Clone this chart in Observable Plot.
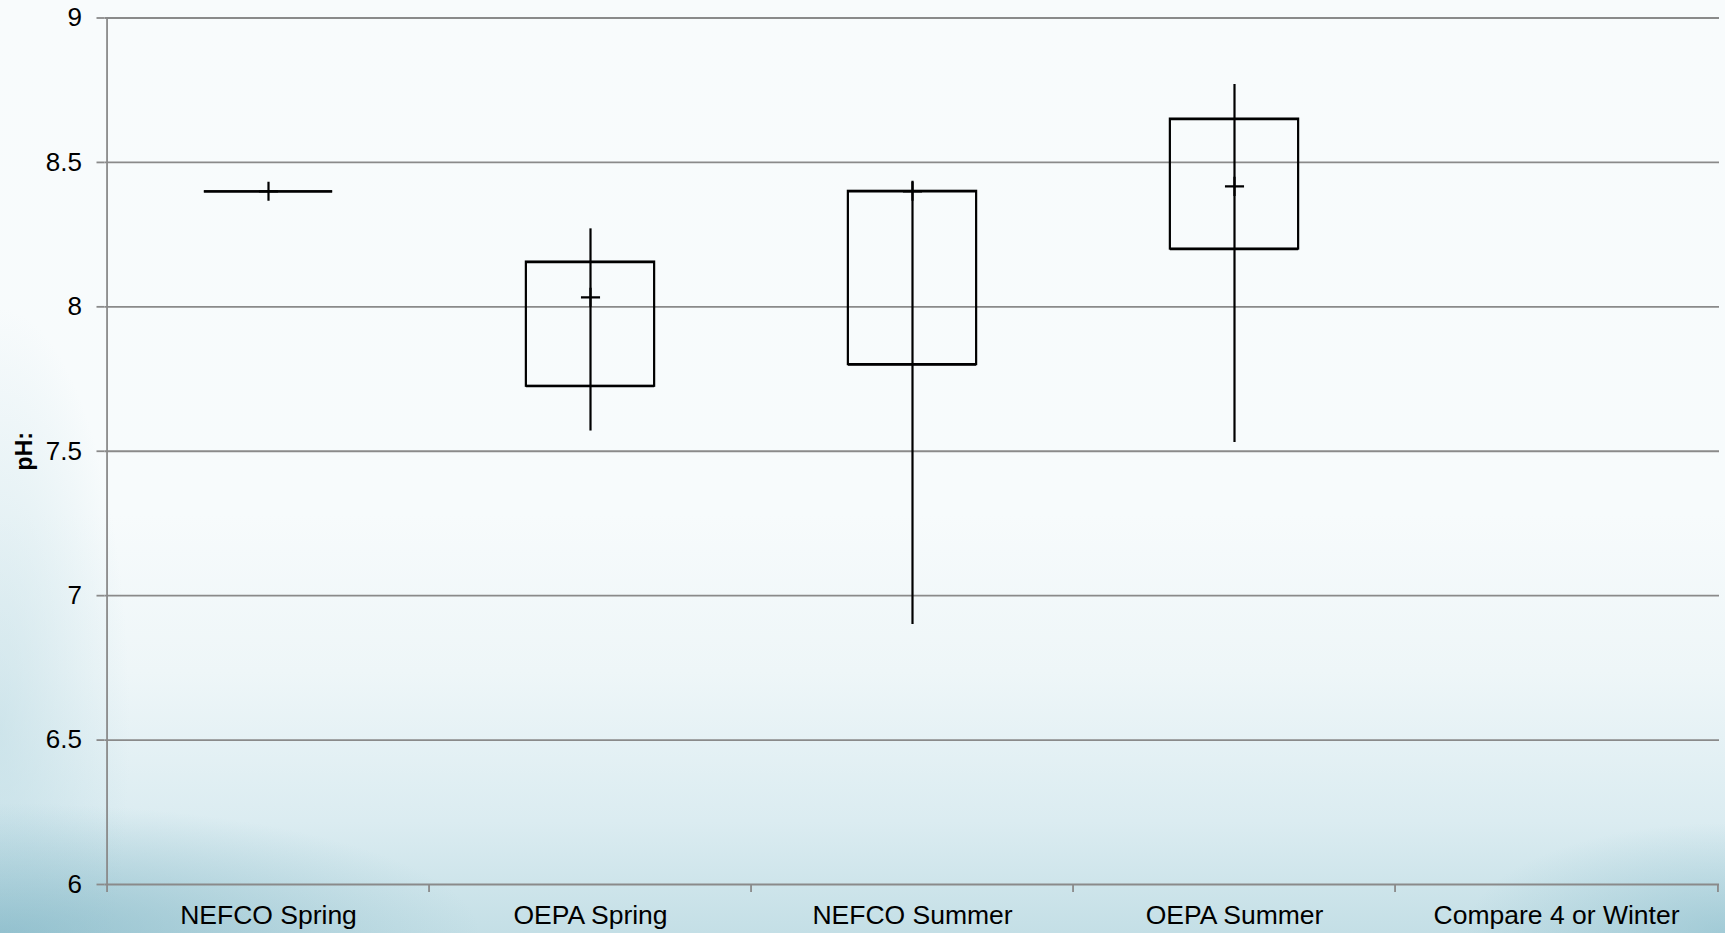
<!DOCTYPE html>
<html>
<head>
<meta charset="utf-8">
<script src="https://cdn.jsdelivr.net/npm/d3@7"></script>
<script src="https://cdn.jsdelivr.net/npm/@observablehq/plot@0.6"></script>
<style>
  html, body { margin: 0; padding: 0; }
  body {
    width: 1725px;
    height: 933px;
    overflow: hidden;
    background:
      radial-gradient(ellipse 480px 130px at 0% 100%, rgba(110, 170, 188, 0.55), rgba(110, 170, 188, 0) 100%),
      radial-gradient(ellipse 260px 110px at 100% 100%, rgba(120, 178, 195, 0.45), rgba(120, 178, 195, 0) 100%),
      radial-gradient(ellipse 130px 420px at 0% 78%, rgba(185, 217, 226, 0.55), rgba(185, 217, 226, 0) 100%),
      linear-gradient(to bottom, #f8fbfc 0%, #f7fbfc 55%, #eef6f8 72%, #dbecf1 88%, #c4dfe6 100%);
  }
  #chart svg { display: block; }
</style>
</head>
<body>
<div id="chart"></div>
<script>
// pH summary by sampling group: whiskers (min–max), box (Q1–Q3), mean marker.
const categories = ["NEFCO Spring", "OEPA Spring", "NEFCO Summer", "OEPA Summer", "Compare 4 or Winter"];
const minValues  = [8.40, 7.57, 6.90, 7.53, null];
const q1Values   = [8.40, 7.725, 7.80, 8.20, null];
const q3Values   = [8.40, 8.155, 8.40, 8.65, null];
const maxValues  = [8.40, 8.27, 8.435, 8.77, null];
const meanValues = [8.40, 8.033, 8.40, 8.417, null];
const yTicks = [6, 6.5, 7, 7.5, 8, 8.5, 9];
const yLabel = "pH:";

const rows = categories
  .map((category, i) => ({
    category,
    min: minValues[i],
    q1: q1Values[i],
    q3: q3Values[i],
    max: maxValues[i],
    mean: meanValues[i]
  }))
  .filter((d) => d.q1 != null);

const width = 1725;
const height = 933;
const marginLeft = 104.5;
const marginRight = 6;
const marginTop = 17.5;
const marginBottom = 49;
const band = (width - marginLeft - marginRight) / categories.length;
const boxInset = band * 0.3;

const gridColor = "#8a8a8a";
const ink = "#000";
const lw = 2.2;

const chart = Plot.plot({
  width,
  height,
  marginLeft,
  marginRight,
  marginTop,
  marginBottom,
  style: {
    background: "transparent",
    fontFamily: "'Liberation Sans', Arial, Helvetica, sans-serif",
    fontSize: "26px",
    color: "#000"
  },
  x: { type: "band", domain: categories, padding: 0 },
  y: { domain: [6, 9] },
  marks: [
    // horizontal gridlines (the 6 line doubles as the category axis)
    Plot.ruleY(yTicks, { stroke: gridColor, strokeWidth: 1.8 }),
    // value axis line, running slightly below the baseline
    Plot.ruleX([categories[0]], { x: (d) => d, dx: -band / 2, y1: 9, y2: 6, insetBottom: -8, stroke: gridColor, strokeWidth: 1.8 }),
    // category boundary ticks
    Plot.ruleX(categories.slice(1), { x: (d) => d, dx: -band / 2, y1: 6, y2: 6, insetBottom: -8, stroke: gridColor, strokeWidth: 1.8 }),
    Plot.ruleX(categories.slice(-1), { x: (d) => d, dx: band / 2, y1: 6, y2: 6, insetBottom: -8, stroke: gridColor, strokeWidth: 1.8 }),
    Plot.axisY({
      ticks: yTicks,
      tickSize: 8,
      tickPadding: 15,
      tickFormat: (d) => String(d),
      stroke: gridColor,
      strokeWidth: 1.8,
      fill: "#000",
      fontSize: 26,
      label: null
    }),
    Plot.axisX({
      tickSize: 0,
      tickPadding: 21,
      fill: "#000",
      fontSize: 26.5,
      label: null
    }),
    Plot.text([yLabel], {
      frameAnchor: "left",
      dx: -80,
      rotate: -90,
      text: (d) => d,
      textAnchor: "middle",
      lineAnchor: "middle",
      fontWeight: "bold",
      fontSize: 23,
      fill: "#000"
    }),
    // whiskers
    Plot.ruleX(rows, { x: "category", y1: "min", y2: "max", stroke: ink, strokeWidth: lw }),
    // interquartile boxes
    Plot.barY(rows, { x: "category", y1: "q1", y2: "q3", fill: "none", stroke: ink, strokeWidth: lw, insetLeft: boxInset, insetRight: boxInset }),
    // box edges (keeps a collapsed box visible as a line)
    Plot.tickY(rows, { x: "category", y: "q1", stroke: ink, strokeWidth: lw, insetLeft: boxInset, insetRight: boxInset }),
    Plot.tickY(rows, { x: "category", y: "q3", stroke: ink, strokeWidth: lw, insetLeft: boxInset, insetRight: boxInset }),
    // mean markers
    Plot.dot(rows, { x: "category", y: "mean", symbol: "plus", r: 6.2, stroke: ink, strokeWidth: lw, fill: "none" })
  ]
});

document.getElementById("chart").append(chart);
</script>
</body>
</html>
